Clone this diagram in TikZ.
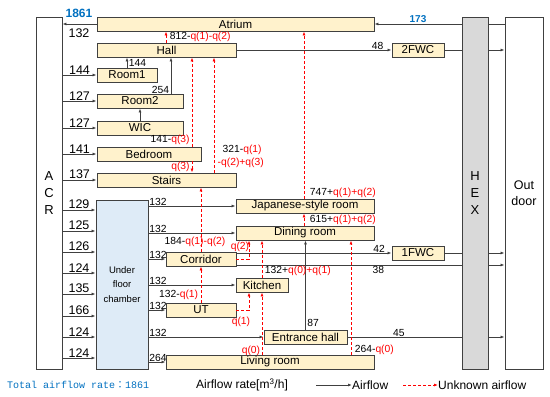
\documentclass[tikz,border=0pt]{standalone}
\usepackage{fontspec}
\setmainfont{Liberation Sans}
\newfontfamily\monofont{Liberation Mono}
\newfontfamily\cjk{Noto Sans CJK JP}
\usetikzlibrary{arrows.meta}
\definecolor{linegray}{RGB}{64,64,64}
\definecolor{roomfill}{RGB}{255,242,204}
\definecolor{chamberfill}{RGB}{222,235,247}
\definecolor{hexfill}{RGB}{217,217,217}
\definecolor{azul}{RGB}{0,112,192}
\definecolor{unkred}{RGB}{255,0,0}
\newcommand{\uq}[1]{\textcolor{unkred}{#1}}

\begin{document}
\begin{tikzpicture}[x=1pt, y=-1pt,
    room/.style={rectangle, draw=linegray, fill=roomfill, line width=0.9pt,
                 inner sep=0pt, minimum height=14pt, text=black,
                 font=\fontsize{11.5}{12}\selectfont},
    tall/.style={rectangle, draw=linegray, line width=0.9pt, inner sep=0pt,
                 minimum height=352pt, align=center},
    line/.style={linegray, line width=0.8pt},
    arr/.style={-{Latex[length=4pt,width=3pt]}, linegray, line width=0.8pt},
    uarr/.style={-{Latex[length=4pt,width=3pt]}, unkred, line width=0.8pt,
                 dash pattern=on 3pt off 2pt},
    num/.style={font=\fontsize{10.3}{11}\selectfont, inner sep=0.5pt, text=black},
    bnum/.style={font=\fontsize{12.5}{13}\selectfont, inner sep=0.5pt, text=black},
    lgd/.style={font=\fontsize{12}{13}\selectfont, inner sep=0pt, text=black}
  ]
  \useasboundingbox (0,0) rectangle (550,397);

  % units
  \node[tall, minimum width=26pt, font=\fontsize{13}{17}\selectfont]
       (acr) at (49,193) {A\\C\\R};
  \node[tall, minimum width=52pt, minimum height=169pt, fill=chamberfill,
        font=\fontsize{9.5}{14.5}\selectfont]
       (chamber) at (122,284.5) {Under\\floor\\chamber};
  \node[tall, minimum width=26pt, fill=hexfill, font=\fontsize{13}{17}\selectfont]
       (hex) at (475,193) {H\\E\\X};
  \node[tall, minimum width=38pt, font=\fontsize{12.5}{16}\selectfont]
       (outdoor) at (524,193) {Out\\door};

  % rooms
  \node[room, minimum width=277pt] (atrium)   at (235.5,24)  {Atrium};
  \node[room, minimum width=139pt] (hall)     at (166.5,50)  {Hall};
  \node[room, minimum width=60pt]  (room1)    at (127,75)    {Room1};
  \node[room, minimum width=86pt]  (room2)    at (140,101)   {Room2};
  \node[room, minimum width=86pt]  (wic)      at (140,128)   {WIC};
  \node[room, minimum width=104pt] (bedroom)  at (149,154)   {Bedroom};
  \node[room, minimum width=139pt] (stairs)   at (166.5,180) {Stairs};
  \node[room, minimum width=138pt] (japanese) at (305,206)   {Japanese-style room};
  \node[room, minimum width=138pt] (dining)   at (305,233)   {Dining room};
  \node[room, minimum width=70pt]  (corridor) at (201,259)   {Corridor};
  \node[room, minimum width=52pt]  (kitchen)  at (262,285)   {Kitchen};
  \node[room, minimum width=70pt]  (ut)       at (201,310)   {UT};
  \node[room, minimum width=83pt]  (entrance) at (305.5,337) {Entrance hall};
  \node[room, minimum width=208pt] (living)   at (270,362)   {Living room};
  \node[room, minimum width=52pt]  (fwc2)     at (418,50)    {2FWC};
  \node[room, minimum width=52pt]  (fwc1)     at (418,253)   {1FWC};

  % supply side
  \draw[arr] (atrium.west) -- (acr.east |- atrium.west);
  \node[font=\bfseries\fontsize{12}{13}\selectfont, text=azul] at (79,13) {1861};
  \node[bnum] at (79,33) {132};
  \foreach \n/\v in {room1/144, room2/127, wic/127, bedroom/141, stairs/137}
    \draw[arr] (acr.east |- \n.west) -- (\n.west)
      node[midway, above, bnum] {\v};
  \foreach \y/\v in {210/129, 231/125, 252/126, 273/124, 294/135, 316/166, 337/124, 358/124}
    \draw[arr] (acr.east |- 0,\y) -- (chamber.west |- 0,\y)
      node[midway, above, bnum] {\v};
  \foreach \n/\v in {japanese/132, dining/132, corridor/132, kitchen/132, ut/132, entrance/132, living/264}
    \draw[arr] (chamber.east |- \n.west) -- (\n.west)
      node[pos=0, above right, num] {\v};

  % known flows between rooms
  \draw[arr] (room1.north) -- (room1.north |- hall.south)
    node[midway, right=1pt, num] {144};
  \draw[arr] (171,0 |- room2.north) -- (171,0 |- hall.south)
    node[pos=0.11, left=1pt, num] {254};
  \draw[arr] (wic.north) -- (wic.north |- room2.south);
  \draw[arr] (entrance.north) -- (entrance.north |- dining.south)
    node[pos=0.07, right=1pt, num] {87};

  % exhaust side
  \draw[line] (outdoor.west |- atrium.east) -- (hex.east |- atrium.east);
  \draw[arr] (hex.west |- atrium.east) -- (atrium.east)
    node[midway, above, font=\bfseries\fontsize{10}{11}\selectfont, text=azul, inner sep=0.5pt] {173};
  \draw[arr] (hall.east) -- (fwc2.west) node[pos=0.91, above, num] {48};
  \draw[line] (fwc2.east) -- (hex.west |- fwc2.east);
  \draw[arr] (hex.east |- fwc2.east) -- (outdoor.west |- fwc2.east);
  \draw[arr] (corridor.east |- fwc1.west) -- (fwc1.west) node[pos=0.92, above, num] {42};
  \draw[line] (fwc1.east) -- (hex.west |- fwc1.east);
  \draw[arr] (hex.east |- fwc1.east) -- (outdoor.west |- fwc1.east);
  \coordinate (c38) at (corridor.east |- 0,265);
  \draw[line] (c38) -- (hex.west |- c38) node[pos=0.63, below, num] {38};
  \draw[arr] (hex.east |- c38) -- (outdoor.west |- c38);
  \draw[line] (entrance.east) -- (hex.west |- entrance.east)
    node[pos=0.45, above, num] {45};
  \draw[arr] (hex.east |- entrance.east) -- (outdoor.west |- entrance.east);

  % unknown flows
  \draw[uarr] (166,0 |- hall.north) -- (166,0 |- atrium.south)
    node[midway, right=3pt, num] {812-\uq{q(1)-q(2)}};
  \draw[uarr] (192,0 |- bedroom.north) -- (192,0 |- hall.south)
    node[pos=0.07, left=1.5pt, num] {141-\uq{q(3)}};
  \draw[uarr] (192,0 |- bedroom.south) -- (192,0 |- stairs.north)
    node[midway, left=1.5pt, num] {\uq{q(3)}};
  \draw[uarr] (214,0 |- stairs.north) -- (214,0 |- hall.south);
  \node[num, anchor=west] at (222,150) {321-\uq{q(1)}};
  \node[num, anchor=west] at (217,163) {\uq{-q(2)+q(3)}};
  \draw[uarr] (201,0 |- corridor.north) -- (201,0 |- stairs.south);
  \node[num, anchor=west] at (164,242) {184-\uq{q(1)-q(2)}};
  \draw[uarr] (304,0 |- japanese.north) -- (304,0 |- atrium.south)
    node[pos=0.036, right=5pt, num] {747+\uq{q(1)+q(2)}};
  \draw[uarr] (304,0 |- dining.north) -- (304,0 |- japanese.south)
    node[midway, right=5pt, num] {615+\uq{q(1)+q(2)}};
  \draw[uarr] (corridor.east) -| (249,0 |- dining.south);
  \node[num] at (240,247) {\uq{q(2)}};
  \draw[uarr] (262,0 |- kitchen.north) -- (262,0 |- dining.south)
    node[pos=0.18, right=2pt, num] {132+\uq{q(0)+q(1)}};
  \draw[uarr] (201,0 |- ut.north) -- (201,0 |- corridor.south)
    node[pos=0.22, left=2pt, num] {132-\uq{q(1)}};
  \draw[uarr] (ut.east) -| (249,0 |- kitchen.south);
  \node[num] at (241,322) {\uq{q(1)}};
  \draw[uarr] (262,0 |- living.north) -- (262,0 |- kitchen.south)
    node[pos=0.06, left=1pt, num] {\uq{q(0)}};
  \draw[uarr] (351,0 |- living.north) -- (351,0 |- dining.south)
    node[pos=0.043, right=3pt, num] {264-\uq{q(0)}};

  % legend
  \node[font=\monofont\fontsize{10}{12}\selectfont, text=azul, anchor=west, inner sep=0pt]
       (total) at (7,385) {Total airflow rate{\cjk：}1861};
  \node[lgd, anchor=west] (rate)   at (196,385) {Airflow rate[m\textsuperscript{3}/h]};
  \node[lgd, anchor=west] (lgflow) at (352,385) {Airflow};
  \node[lgd, anchor=west] (lgunk)  at (438,385) {Unknown airflow};
  \draw[arr] (316,0 |- lgflow.west) -- (lgflow.west);
  \draw[uarr] (403,0 |- lgunk.west) -- (lgunk.west);

\end{tikzpicture}
\end{document}
